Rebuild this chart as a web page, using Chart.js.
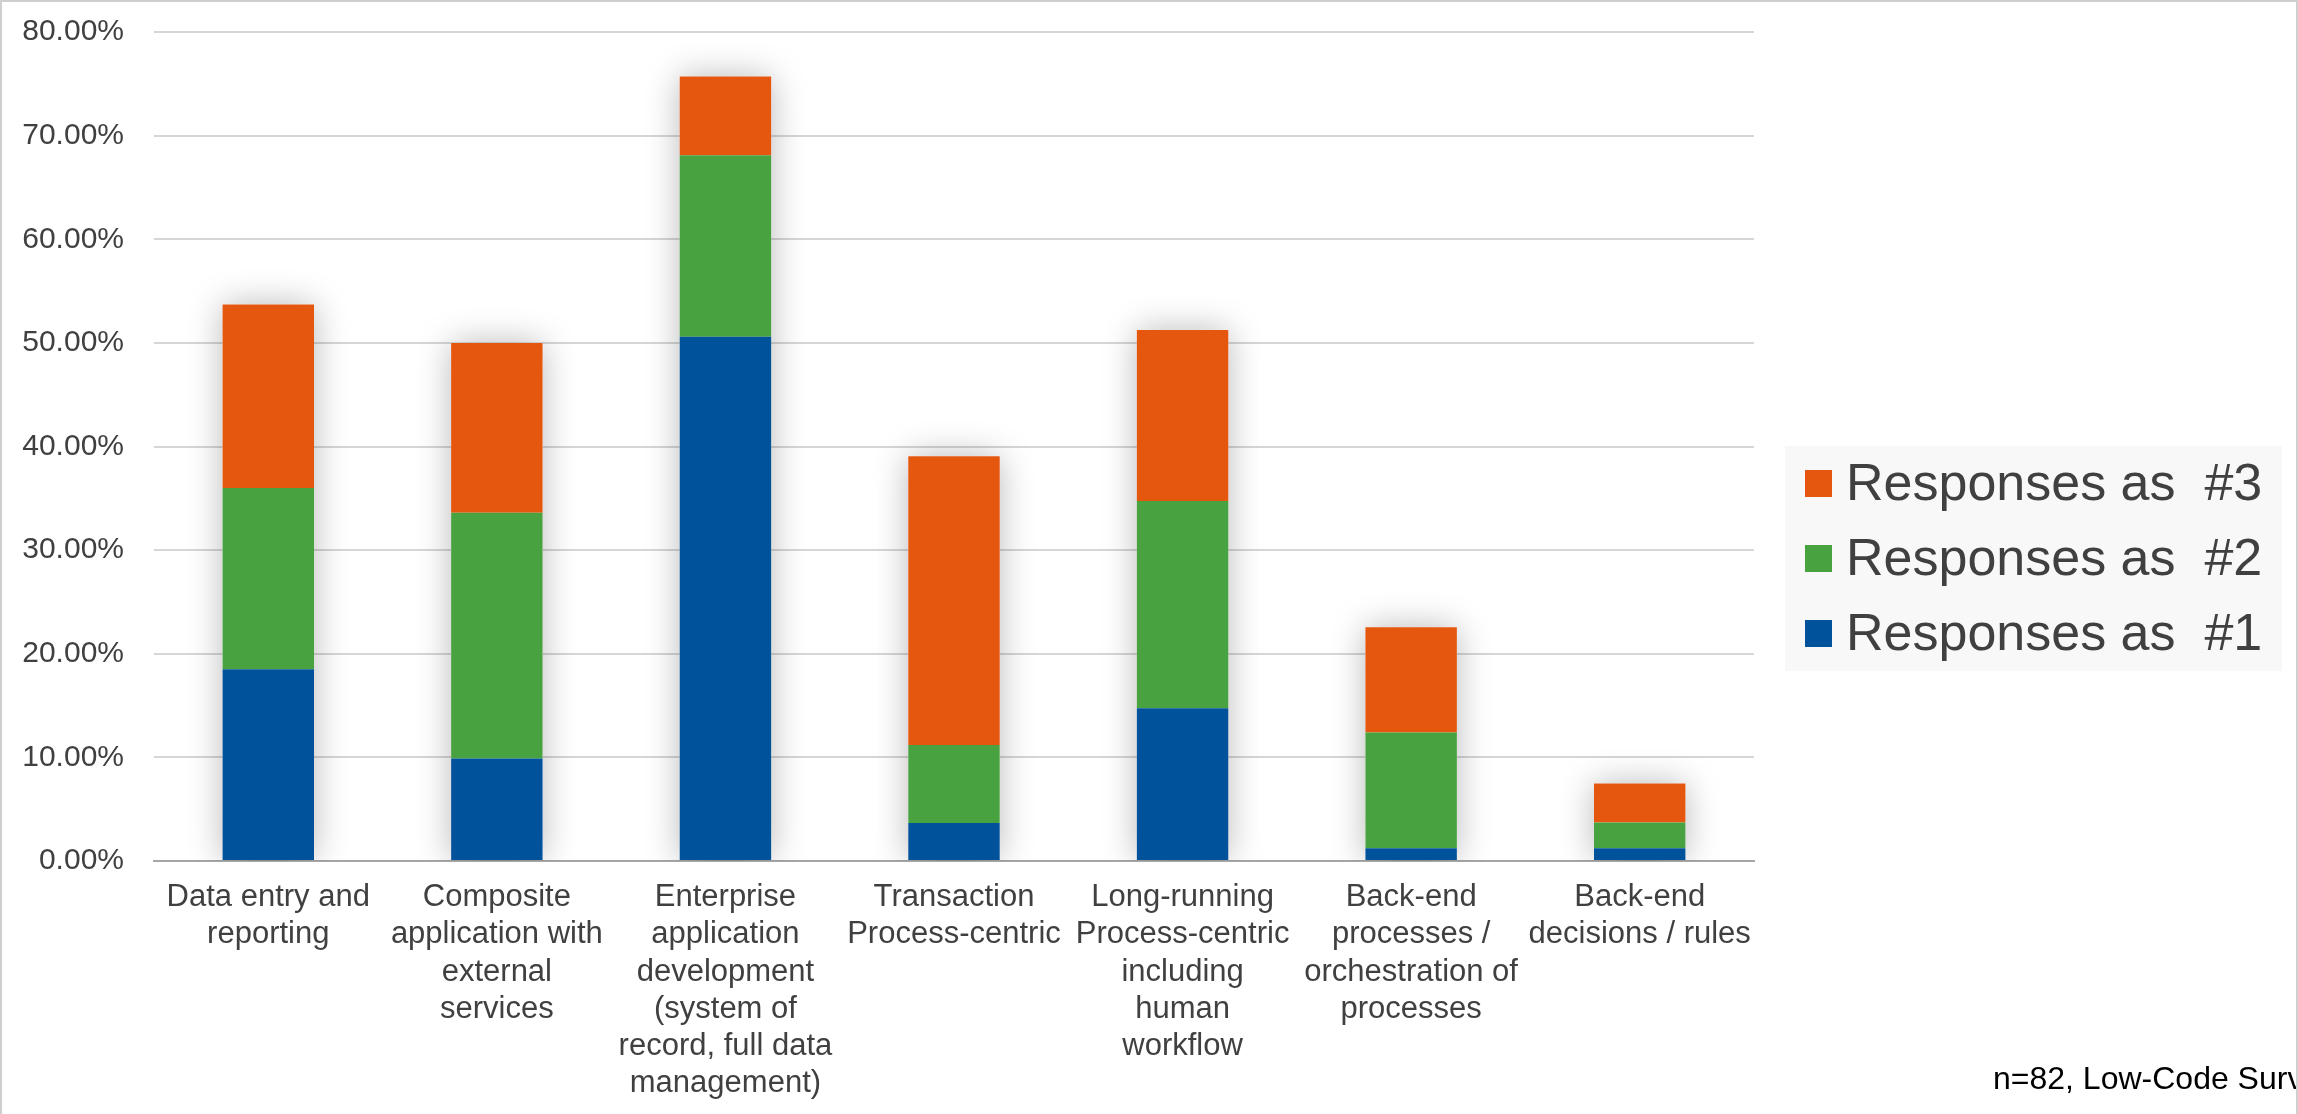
<!DOCTYPE html>
<html>
<head>
<meta charset="utf-8">
<script src="https://cdn.jsdelivr.net/npm/chart.js@4.4.1/dist/chart.umd.min.js"></script>
<style>
    html, body { margin: 0; padding: 0; background: #fff; }
    #wrap { position: relative; width: 2298px; height: 1114px; overflow: hidden; background: #fff; }
    #frame { position: absolute; left: 0; top: 0; width: 2294px; height: 1120px; border: 2px solid #cfcfcf; pointer-events: none; }
    #legend { position: absolute; left: 1785px; top: 446px; width: 497px; height: 225px; background: #f8f8f8; }
    .item { position: absolute; left: 0; height: 75px; width: 497px; }
    .swatch { position: absolute; left: 20px; top: 24px; width: 27px; height: 27px; }
    .label { position: absolute; left: 61px; top: 6px; font: 52px "Liberation Sans", Arial, sans-serif; color: #404040; white-space: pre; line-height: 60px; }
    #note { position: absolute; left: 1993px; top: 1060px; font: 32px "Liberation Sans", Arial, sans-serif; color: #000; white-space: pre; }
</style>
</head>
<body>
<div id="wrap">
    <canvas id="chart" width="2298" height="1114"></canvas>
    <div id="legend"></div>
    <div id="note">n=82, Low-Code Survey</div>
    <div id="frame"></div>
</div>
<script>
// 类别
const categories = [
    ['Data entry and', 'reporting'],
    ['Composite', 'application with', 'external', 'services'],
    ['Enterprise', 'application', 'development', '(system of', 'record, full data', 'management)'],
    ['Transaction', 'Process-centric'],
    ['Long-running', 'Process-centric', 'including', 'human', 'workflow'],
    ['Back-end', 'processes /', 'orchestration of', 'processes'],
    ['Back-end', 'decisions / rules']
];

// 各排名的百分比 (%)
const rank1 = [18.5, 9.9, 50.6, 3.66, 14.74, 1.22, 1.22];
const rank2 = [17.5, 23.7, 17.5, 7.53, 20.0, 11.19, 2.49];
const rank3 = [17.7, 16.4, 7.6, 27.87, 16.51, 10.14, 3.77];

const seriesNames = ['Responses as  #1', 'Responses as  #2', 'Responses as  #3'];
const seriesColors = ['#00529b', '#48a23f', '#e5560f'];

const yTicks = [0, 10, 20, 30, 40, 50, 60, 70, 80];

const FONT = '"Liberation Sans", Arial, sans-serif';

// 柱子阴影
const barShadow = {
    id: 'barShadow',
    beforeDatasetsDraw(chart) {
        const ctx = chart.ctx;
        const area = chart.chartArea;
        const bottom = chart.getDatasetMeta(0);
        const top = chart.getDatasetMeta(2);
        ctx.save();
        ctx.beginPath();
        ctx.rect(area.left, area.top - 30, area.right - area.left, area.bottom - area.top + 30);
        ctx.clip();
        ctx.shadowColor = 'rgba(0,0,0,0.28)';
        ctx.shadowBlur = 34;
        ctx.fillStyle = '#ffffff';
        top.data.forEach((el, i) => {
            const base = bottom.data[i].base;
            ctx.fillRect(el.x - el.width / 2, el.y, el.width, base - el.y);
        });
        ctx.restore();
    }
};

const ctx = document.getElementById('chart').getContext('2d');
const chart = new Chart(ctx, {
    type: 'bar',
    data: {
        labels: categories,
        datasets: [rank1, rank2, rank3].map((d, i) => ({
            label: seriesNames[i],
            data: d,
            backgroundColor: seriesColors[i],
            borderWidth: 0
        }))
    },
    options: {
        responsive: false,
        animation: false,
        layout: { padding: { left: 0, right: 544, top: 32, bottom: 0 } },
        plugins: {
            legend: { display: false },
            tooltip: { enabled: false }
        },
        datasets: {
            bar: { categoryPercentage: 1, barPercentage: 0.4 }
        },
        scales: {
            x: {
                stacked: true,
                grid: { display: false, drawTicks: false },
                border: { display: true, color: '#a6a6a6', width: 2 },
                ticks: {
                    autoSkip: false,
                    maxRotation: 0,
                    padding: 18,
                    color: '#404040',
                    font: { family: FONT, size: 31, lineHeight: 1.2 }
                },
                afterFit: s => { s.height = 253; }
            },
            y: {
                stacked: true,
                min: 0,
                max: 80,
                afterBuildTicks: s => { s.ticks = yTicks.map(v => ({ value: v })); },
                grid: { color: '#d6d6d6', lineWidth: 2, drawTicks: false },
                border: { display: false },
                ticks: {
                    padding: 30,
                    color: '#404040',
                    font: { family: FONT, size: 30 },
                    callback: v => v.toFixed(2) + '%'
                },
                afterFit: s => {
                    s.width = 154;
                    s.paddingTop = 15;
                    s.paddingBottom = 15;
                }
            }
        }
    },
    plugins: [barShadow]
});

// 图例 (#3 在上)
const legend = document.getElementById('legend');
[2, 1, 0].forEach((i, row) => {
    const item = document.createElement('div');
    item.className = 'item';
    item.style.top = (row * 75) + 'px';
    item.innerHTML = `<div class="swatch" style="background:${seriesColors[i]}"></div><div class="label">${seriesNames[i]}</div>`;
    legend.appendChild(item);
});
</script>
</body>
</html>
